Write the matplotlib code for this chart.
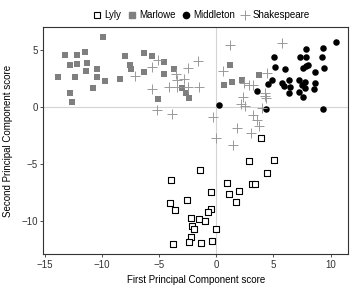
import matplotlib.pyplot as plt
from matplotlib.lines import Line2D

plt.rcParams['font.family'] = ['Liberation Sans', 'DejaVu Sans']

# first / second principal component scores per author
lyly_x = [3.95, 2.85, 5.05, 4.45, -1.4, 0.9, 3.15, 3.4, -0.5, 1.15, 1.95, 1.75,
          -2.55, -0.5, -0.73, -2.2, -1.5, -1.0, -2.15, -1.95, 0.0, -2.2, -2.4,
          -1.3, -0.35, -3.95, -4.0, -3.6, -3.75]
lyly_y = [-2.75, -4.7, -4.6, -5.75, -5.55, -6.65, -6.75, -6.75, -7.45, -7.65, -7.35,
          -8.35, -8.1, -8.95, -9.15, -9.75, -9.8, -10.0, -10.45, -10.7, -10.7,
          -11.35, -11.8, -11.95, -11.7, -6.35, -8.4, -9.05, -12.0]

marlowe_x = [-13.85, -13.2, -12.75, -12.8, -12.6, -12.35, -12.2, -12.15, -11.5, -11.3,
             -11.35, -10.75, -10.45, -10.4, -9.9, -9.75, -8.4, -7.95, -7.55, -7.45,
             -6.35, -6.3, -5.6, -4.55, -4.6, -5.05, -3.7, -3.0, -2.6, -2.4,
             1.2, 0.65, 1.4, 2.25, 3.7]
marlowe_y = [2.6, 4.6, 3.65, 1.2, 0.4, 2.6, 3.75, 4.55, 4.8, 3.85,
             3.2, 1.7, 3.35, 2.6, 6.15, 2.25, 2.45, 4.5, 3.65, 3.35,
             4.75, 3.05, 4.5, 3.95, 2.9, 0.75, 3.35, 1.65, 1.2, 0.8,
             3.7, 1.9, 2.2, 2.35, 2.85]

middleton_x = [10.45, 9.35, 7.8, 5.05, 7.3, 7.8, 9.2, 5.1, 6.0, 7.6, 7.8, 8.0, 9.45,
               8.65, 4.9, 4.5, 3.55, 5.7, 5.9, 6.35, 6.45, 6.35, 7.2, 7.75, 7.5,
               7.2, 7.75, 7.55, 8.5, 8.65, 4.35, 9.3, 0.2]
middleton_y = [5.7, 5.2, 5.1, 4.35, 4.35, 4.35, 4.35, 3.5, 3.35, 3.4, 3.6, 3.7, 3.45,
               3.1, 2.35, 2.0, 1.45, 2.1, 1.85, 2.35, 1.8, 1.25, 2.4, 2.2, 1.95,
               1.35, 1.65, 0.85, 1.6, 2.15, -0.2, -0.2, 0.2]

shakespeare_x = [-7.1, -5.6, -5.05, -5.6, -5.15, -4.1, -3.85, -3.5, -3.4, -2.85,
                 -2.45, -1.6, -3.45, -2.45, -1.55, -0.25, 0.0, 1.2, 5.7, 0.6,
                 2.4, 2.9, 3.2, 4.4, 4.25, 4.25, 4.35, 2.3, 2.15, 2.55, 4.0,
                 3.25, 3.6, 3.7, 1.8, 3.0, 1.5]
shakespeare_y = [2.7, 3.5, 4.15, 1.6, -0.25, 1.8, -0.65, 2.9, 2.4, 2.5,
                 3.45, 4.05, 1.75, 1.8, 1.8, -0.85, -2.75, 5.45, 5.65, 3.2,
                 2.1, 1.95, 1.95, 2.95, 1.25, 0.95, 0.8, 0.9, 0.25, 0.05, -0.05,
                 -0.7, -1.15, -1.7, -1.8, -2.25, -3.35]

fig = plt.figure(figsize=(3.5, 2.89), dpi=100)
ax = fig.add_axes([0.124, 0.12, 0.870, 0.788])

ax.axhline(0, color='#d4d4d4', lw=0.8, zorder=0)
ax.axvline(0, color='#d4d4d4', lw=0.8, zorder=0)

ax.scatter(lyly_x, lyly_y, marker='s', s=20, facecolors='white',
           edgecolors='black', linewidths=0.8, zorder=3)
ax.scatter(marlowe_x, marlowe_y, marker='s', s=20, color='#7f7f7f',
           linewidths=0, zorder=3)
ax.scatter(middleton_x, middleton_y, marker='o', s=22, color='black',
           linewidths=0, zorder=3)
ax.scatter(shakespeare_x, shakespeare_y, marker='+', s=55, color='#999999',
           linewidths=0.7, zorder=3)

ax.set_xlim(-15.1, 11.5)
ax.set_ylim(-12.9, 7.05)
ax.set_xticks([-15, -10, -5, 0, 5, 10])
ax.set_yticks([-10, -5, 0, 5])
ax.set_xticklabels(['\u221215', '\u221210', '\u22125', '0', '5', '10'])
ax.set_yticklabels(['\u221210', '\u22125', '0', '5'])
ax.tick_params(labelsize=7, length=2.5, width=0.6, color='#333333',
               labelcolor='#333333', pad=1.5)
for sp in ax.spines.values():
    sp.set_color('#333333')
    sp.set_linewidth(0.8)

ax.set_xlabel('First Principal Component score', fontsize=7, labelpad=4)
ax.set_ylabel('Second Principal Component score', fontsize=7, labelpad=6)

handles = [
    Line2D([], [], ls='', marker='s', ms=4.5, mfc='white', mec='black', mew=0.8),
    Line2D([], [], ls='', marker='s', ms=4.5, mfc='#7f7f7f', mec='#7f7f7f'),
    Line2D([], [], ls='', marker='o', ms=4.5, mfc='black', mec='black'),
    Line2D([], [], ls='', marker='+', ms=7, mec='#999999', mew=0.7),
]
fig.legend(handles, ['Lyly', 'Marlowe', 'Middleton', 'Shakespeare'],
           loc='center', bbox_to_anchor=(0.575, 0.948), ncol=4, frameon=False,
           fontsize=7, handlelength=0.9, handletextpad=0.3, columnspacing=0.6)

fig.savefig('out.png', dpi=100)
